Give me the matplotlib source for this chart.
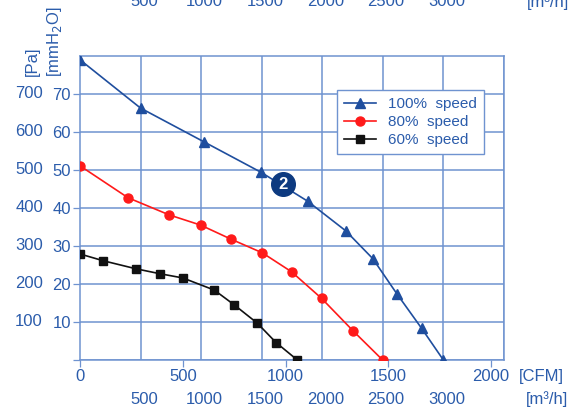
import matplotlib
matplotlib.use('Agg')
import matplotlib.pyplot as plt
from matplotlib.transforms import blended_transform_factory as btf

plt.rcParams['font.family'] = ['Liberation Sans', 'DejaVu Sans']

# ---- data (flow in m3/h, pressure in Pa) ----
flow100 = [0, 500, 1025, 1496, 1881, 2196, 2419, 2617, 2824, 3003]
pa100 = [790, 663, 574, 494, 418, 340, 267, 175, 83, 0]
flow80 = [0, 397, 736, 997, 1248, 1507, 1749, 1997, 2259, 2501]
pa80 = [511, 427, 382, 355, 318, 282, 232, 162, 76, 0]
flow60 = [0, 194, 463, 661, 849, 1110, 1275, 1465, 1620, 1796]
pa60 = [279, 261, 240, 227, 216, 184, 145, 97, 46, 0]

series_labels = ['100%  speed', '80%  speed', '60%  speed']
cfm_ticks = [0, 500, 1000, 1500, 2000]
m3h_labels = [500, 1000, 1500, 2000, 2500, 3000]
pa_labels = [100, 200, 300, 400, 500, 600, 700]
mm_labels = [10, 20, 30, 40, 50, 60, 70]
CFM_TO_M3H = 1.699

LBL = '#2b5cab'
GRID = '#6f93d0'
BLUE = '#1f4e9e'
RED = '#ff1a1a'
BLACK = '#111111'
BADGE = '#0d3a80'

fig = plt.figure(figsize=(5.8, 4.09), dpi=100)
ax = fig.add_axes([80/580, 49/409, 423.5/580, 304/409])
ax.set_xlim(0, 3500)
ax.set_ylim(0, 800)

# vertical grid (m3/h every 500)
ax.set_xticks(range(500, 3501, 500), minor=True)
ax.grid(axis='x', which='minor', color=GRID, linewidth=1.1)
ax.tick_params(axis='x', which='minor', length=0)
for s in ax.spines.values():
    s.set_color(GRID)
    s.set_linewidth(1.1)

# CFM ticks on bottom
ax.set_xticks([c * CFM_TO_M3H for c in cfm_ticks])
ax.set_xticklabels([str(c) for c in cfm_ticks])
ax.tick_params(axis='x', which='major', length=5, width=0.9, color=GRID,
               labelcolor=LBL, labelsize=12, pad=1.5, direction='out')

# mmH2O ticks on left, horizontal grid
ax.set_yticks([0] + pa_labels)
ax.set_yticklabels([''] + [str(m) for m in mm_labels])
ax.grid(axis='y', which='major', color=GRID, linewidth=1.1)
ax.tick_params(axis='y', which='major', length=5, width=0.9, color=GRID,
               labelcolor=LBL, labelsize=12, pad=1.5, direction='out')
ax.set_axisbelow(True)

# Pa labels
tr_y = btf(ax.transAxes, ax.transData)
for p in pa_labels:
    ax.text(-37/423.5, p, str(p), transform=tr_y, ha='right', va='center',
            color=LBL, fontsize=12, clip_on=False)

# m3/h labels at bottom and top
tr_bot = btf(ax.transData, fig.transFigure)
for m in m3h_labels:
    ax.text(m + 30, 1 - 399/409, str(m), transform=tr_bot, ha='center', va='center',
            color=LBL, fontsize=12, clip_on=False)
    ax.text(m + 30, 1 - 2/409, str(m), transform=tr_bot, ha='center', va='center',
            color=LBL, fontsize=12, clip_on=False)

fig.text(519/580, 1 - 376/409, '[CFM]', ha='left', va='center', color=LBL, fontsize=12)
fig.text(547/580, 1 - 399/409, '[m³/h]', ha='center', va='center', color=LBL, fontsize=12)
fig.text(548/580, 1 - 2/409, '[m³/h]', ha='center', va='center', color=LBL, fontsize=12)

# axis titles
fig.text(32/580, 1 - 61/409, '[Pa]', rotation=90, ha='center', va='center', color=LBL, fontsize=12)
fig.text(55/580, 1 - 42/409, '[mmH$_2$O]', rotation=90, ha='center', va='center', color=LBL, fontsize=12)

# curves
ax.plot(flow100, pa100, color=BLUE, lw=1.2, marker='^', ms=6.5, label=series_labels[0], zorder=3)
ax.plot(flow80, pa80, color=RED, lw=1.2, marker='o', ms=6.5, label=series_labels[1], zorder=3)
ax.plot(flow60, pa60, color=BLACK, lw=1.2, marker='s', ms=5.5, label=series_labels[2], zorder=3)

# badge
ax.plot([1680], [463], marker='o', ms=17, color=BADGE, zorder=4)
ax.text(1680, 463, '2', color='white', fontsize=12, fontweight='bold',
        ha='center', va='center', zorder=5)

leg = ax.legend(loc='upper left', bbox_to_anchor=(0.607, 0.888), borderaxespad=0,
                fancybox=False, edgecolor=GRID, framealpha=1, fontsize=11,
                handlelength=2.1, handletextpad=0.8, borderpad=0.45, labelspacing=0.28)
leg.get_frame().set_linewidth(1.0)
for t in leg.get_texts():
    t.set_color(LBL)

fig.savefig('out.png', dpi=100)
